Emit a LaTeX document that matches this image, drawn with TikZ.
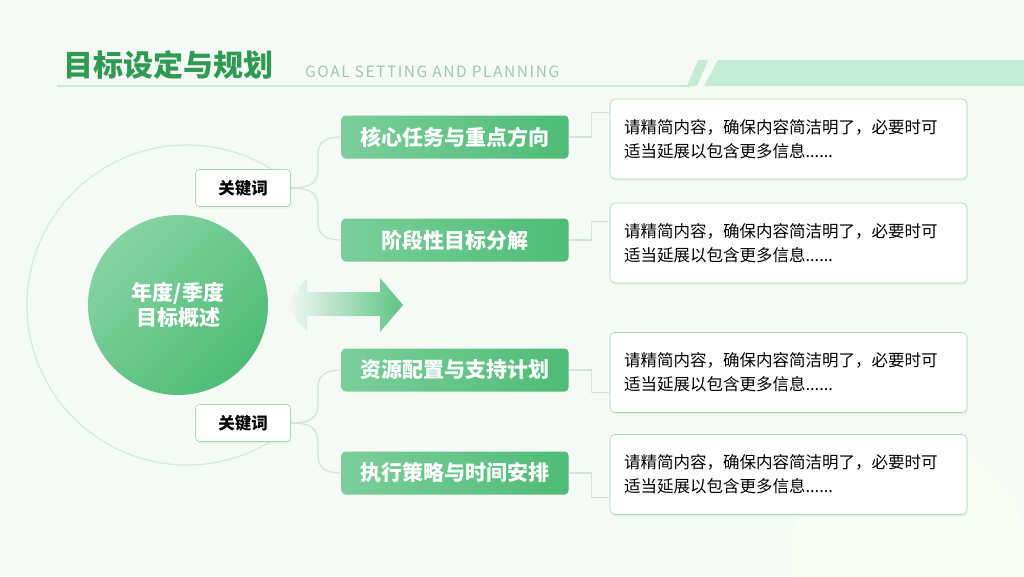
\documentclass[tikz,border=0pt]{standalone}
\usepackage{fontspec}
\setmainfont{Noto Sans CJK SC}
\newfontfamily\cjk{Noto Sans CJK SC}
\newfontfamily\latinwide[LetterSpace=10]{Noto Sans CJK SC}
\usetikzlibrary{shadows}
\definecolor{leaf}{HTML}{4EBC76}
\definecolor{leaflight}{HTML}{86D3A3}
\definecolor{titlegreen}{HTML}{2F9A52}
\definecolor{mint}{HTML}{C6EBD6}
\definecolor{wirecol}{HTML}{D2E5D9}
\definecolor{bgcol}{HTML}{F5FAF7}
\definecolor{edgegreen}{HTML}{A3DAB8}
\definecolor{engray}{HTML}{9DC9AD}
\definecolor{ringcol}{HTML}{D3ECDD}

\begin{document}
\begin{tikzpicture}[x=1pt,y=-1pt,
    topic/.style={left color=leaflight!80!leaf, right color=leaf, rounded corners=4pt,
        minimum width=227pt, minimum height=43pt, text=white,
        font=\cjk\bfseries\fontsize{21}{24}\selectfont},
    note/.style={fill=white, draw=edgegreen, line width=0.6pt, rounded corners=5pt,
        minimum height=80pt, text width=329pt, inner xsep=14pt, align=left,
        font=\cjk\fontsize{16.5}{24}\selectfont,
        drop shadow={opacity=0.10, shadow xshift=1pt, shadow yshift=-2pt, fill=leaf}},
    keyword/.style={fill=white, draw=edgegreen, line width=0.6pt, rounded corners=4pt,
        minimum width=95pt, minimum height=37pt,
        font=\cjk\bfseries\fontsize{16.5}{20}\selectfont,
        drop shadow={opacity=0.10, shadow xshift=1pt, shadow yshift=-2pt, fill=leaf}},
    wire/.style={draw=wirecol, line width=1.2pt},
    ring/.style={draw=ringcol, line width=1.2pt}]

% page and background
\useasboundingbox (0,0) rectangle (1024,576);
\fill[bgcol] (0,0) rectangle (1024,576);
\fill[yellow!30!green!4] (910,560) circle[radius=120];

% title bar
\node[anchor=west, inner sep=0, text=titlegreen, font=\cjk\bfseries\fontsize{30}{32}\selectfont] (title) at (63,65) {目标设定与规划};
\node[anchor=west, inner sep=0, text=engray, font=\latinwide\fontsize{15.5}{18}\selectfont] (subtitle) at (305,72) {GOAL SETTING AND PLANNING};
\draw[mint, line width=1.5pt] (57,86) -- (690,86);
\fill[mint] (687,86) -- (698,60) -- (708,60) -- (697,86) -- cycle;
\fill[mint] (704,86) -- (718,60) -- (1024,60) -- (1024,86) -- cycle;

% outer ring
\draw[ring] (187,305) ++(55:160) arc[start angle=55, end angle=305, radius=160];

% core
\node[circle, minimum size=180pt, top color=leaflight, bottom color=leaf, shading angle=45,
    text=white, align=center, font=\cjk\bfseries\fontsize{21}{25}\selectfont] (core) at (178,305) {年度/季度\\目标概述};

% double arrow
\shade[left color=bgcol, right color=leaf!90] (285,305) -- (307,278) -- (307,292) -- (380,292) -- (380,278)
    -- (403,305) -- (380,332) -- (380,316) -- (307,316) -- (307,332) -- cycle;

% keywords
\node[keyword] (kw1) at (243,188) {关键词};
\node[keyword] (kw2) at (243,423) {关键词};

% topics
\node[topic] (t1) at (455,137) {核心任务与重点方向};
\node[topic] (t2) at (455,240) {阶段性目标分解};
\node[topic] (t3) at (455,370) {资源配置与支持计划};
\node[topic] (t4) at (455,473) {执行策略与时间安排};

% notes
\node[note] (n1) at (788.5,139) {请精简内容，确保内容简洁明了，必要时可\\适当延展以包含更多信息......};
\node[note] (n2) at (788.5,243) {请精简内容，确保内容简洁明了，必要时可\\适当延展以包含更多信息......};
\node[note] (n3) at (788.5,372.5) {请精简内容，确保内容简洁明了，必要时可\\适当延展以包含更多信息......};
\node[note] (n4) at (788.5,474.5) {请精简内容，确保内容简洁明了，必要时可\\适当延展以包含更多信息......};

% braces
\draw[wire] (kw1.east) .. controls (312,188) and (318,182) .. (318,168) -- (318,154)
    .. controls (318,142) and (326,137) .. (t1.west);
\draw[wire] (kw1.east) .. controls (312,188) and (318,194) .. (318,208) -- (318,222)
    .. controls (318,235) and (326,240) .. (t2.west);
\draw[wire] (kw2.east) .. controls (312,423) and (318,417) .. (318,403) -- (318,387)
    .. controls (318,375) and (326,370) .. (t3.west);
\draw[wire] (kw2.east) .. controls (312,423) and (318,429) .. (318,443) -- (318,456)
    .. controls (318,468) and (326,473) .. (t4.west);

% elbows
\draw[wire] (t1.east) -- ++(23,0) |- ([yshift=-14pt]n1.north west);
\draw[wire] (t2.east) -- ++(23,0) |- ([yshift=-19pt]n2.north west);
\draw[wire] (t3.east) -- ++(23,0) |- ([yshift=20pt]n3.south west);
\draw[wire] (t4.east) -- ++(23,0) |- ([yshift=17pt]n4.south west);
\end{tikzpicture}
\end{document}
